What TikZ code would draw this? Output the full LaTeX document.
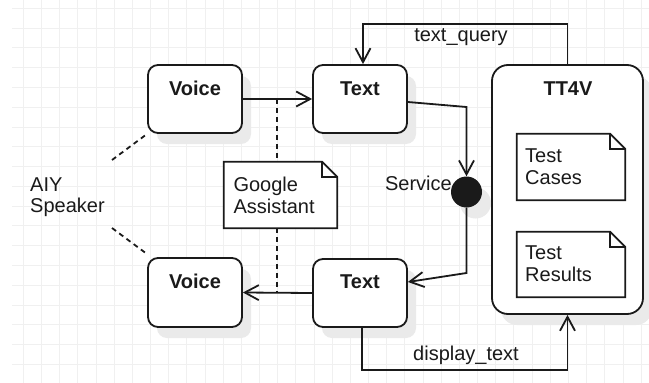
\documentclass[tikz,border=0pt]{standalone}
\usepackage{fontspec}
\setmainfont{Liberation Sans}
\usetikzlibrary{arrows.meta,shadows,calc}
\definecolor{ink}{HTML}{1A1A1A}
\definecolor{gridc}{HTML}{F0F0F0}
\definecolor{shade}{HTML}{EAEAEA}
\begin{document}
\begin{tikzpicture}[x=1pt,y=-1pt,
  every node/.style={font=\fontsize{20}{21.7}\selectfont, text=ink},
  boldlbl/.style={font=\fontsize{20}{21.7}\selectfont\bfseries, anchor=base, inner sep=0pt},
  plainlbl/.style={anchor=north west, align=left, inner sep=0pt},
  lineink/.style={draw=ink, line width=1.8pt},
  boxshadow/.style={drop shadow={shadow xshift=9pt, shadow yshift=-11pt, fill=shade, opacity=1}},
  statebox/.style={lineink, rounded corners=10pt, fill=white, minimum width=94pt, minimum height=68pt, inner sep=0pt, boxshadow},
  notebg/.style={inner sep=0pt, minimum width=108pt, minimum height=66pt},
  arr/.style={lineink, -{Straight Barb[length=14pt,width=15pt,line width=1.8pt]}},
  dashln/.style={draw=ink, line width=1.8pt, dash pattern=on 5pt off 4pt}
]
\useasboundingbox (0,0) rectangle (649,383);
\fill[white] (0,0) rectangle (649,383);
% grid
\foreach \k in {0,...,34} {
  \draw[gridc, line width=0.8pt] ({23.3+18.17*\k},0) -- ({23.3+18.17*\k},383);
}
\foreach \k in {0,...,18} {
  \draw[gridc, line width=0.8pt] (12,{8.3+19.78*\k}) -- (649,{8.3+19.78*\k});
}

% state boxes
\node[statebox] (v1) at (195,99) {};
\node[statebox, minimum height=69pt] (v2) at (195,292.5) {};
\node[statebox] (t1) at (360,99) {};
\node[statebox] (t2) at (360,293) {};
\node[lineink, rounded corners=16pt, fill=white, minimum width=151pt, minimum height=249pt, inner sep=0pt, boxshadow] (tt) at (567.5,189.5) {};

\node[boldlbl] (v1l) at (195,95) {Voice};
\node[boldlbl] (v2l) at (195,288.3) {Voice};
\node[boldlbl] (t1l) at (360,95) {Text};
\node[boldlbl] (t2l) at (360,288.3) {Text};
\node[boldlbl] (ttl) at (568,95) {TT4V};

% notes
\node[notebg] (tc) at (571,167) {};
\node[notebg, minimum height=65pt] (tr) at (571,264.5) {};
\node[notebg, minimum width=113pt] (ga) at (280.5,195) {};
\foreach \n in {tc,tr,ga} {
  \draw[lineink, fill=white] (\n.north west) -- ([xshift=-15pt]\n.north east) -- ([yshift=-15pt]\n.north east) -- (\n.south east) -- (\n.south west) -- cycle;
  \draw[lineink] ([xshift=-15pt]\n.north east) |- ([yshift=-15pt]\n.north east);
}
\node[plainlbl] (tct) at (525,148.5) {Test\\Cases};
\node[plainlbl] (trt) at (525,245.5) {Test\\Results};
\node[plainlbl] (gat) at (233.3,177.2) {Google\\Assistant};
\node[plainlbl] (aiy) at (30,177.2) {AIY\\Speaker};

% service
\node[circle, fill=ink, minimum size=31pt, inner sep=0pt, boxshadow] (svc) at (466.5,192) {};
\node[anchor=base east, inner sep=0pt] (svl) at (452,190.7) {Service};

% coordinates
\coordinate (qy) at (0,24);
\coordinate (dy) at (0,370);
\coordinate (s1) at (466.5,107);
\coordinate (s2) at (466.5,273);
\coordinate (d1) at (277.3,99);
\coordinate (d2) at (277.3,292.5);
\coordinate (a1) at (112,160);
\coordinate (a2) at (112,228);

% connectors
\draw[arr] (v1.east) -- (t1.west);
\draw[arr] (t2.west) -- (v2.east);
\draw[arr] (tt.north) -- (tt.north |- qy) -| ([xshift=3pt]t1.north);
\draw[arr] ([yshift=-3pt]t1.east) -- (s1) -- (svc.north);
\draw[arr] (svc.south) -- (s2) -- ([yshift=11pt]t2.east);
\draw[arr] ([xshift=2pt]t2.south) -- ([xshift=2pt]t2.south |- dy) -| (tt.south);

\node[anchor=base, inner sep=0pt] (tql) at (461,41.7) {text\_query};
\node[anchor=base, inner sep=0pt] (dtl) at (466,360) {display\_text};

% dashed links
\draw[dashln] (d1) -- (d1 |- ga.north);
\draw[dashln] (d1 |- ga.south) -- (d2);
\draw[dashln] (a1) -- (v1.south west);
\draw[dashln] (a2) -- ([yshift=3pt]v2.north west);
\end{tikzpicture}
\end{document}
